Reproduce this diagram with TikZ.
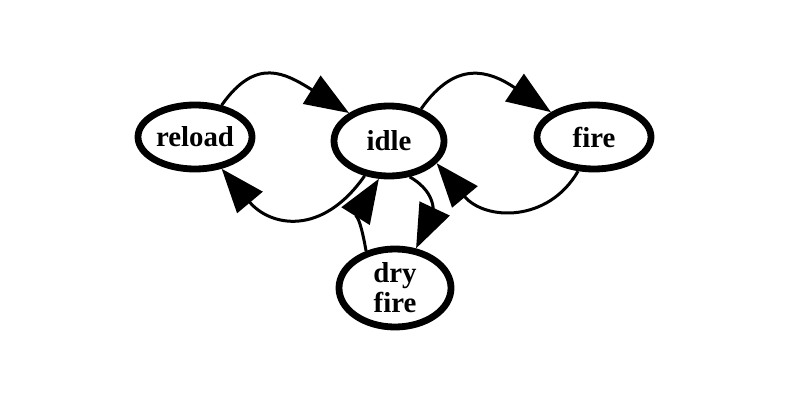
\documentclass[tikz,border=0pt]{standalone}
\usepackage{fontspec}
\setmainfont{Liberation Serif}
\usetikzlibrary{shapes.geometric,arrows.meta}
\begin{document}
\begin{tikzpicture}[x=0.025cm,y=0.025cm,
  state/.style={ellipse, draw, line width=0.17cm, inner sep=0pt,
    minimum width=2.85cm, minimum height=1.6cm,
    font=\bfseries\fontsize{20.5}{21.5}\selectfont, align=center},
  edge/.style={line width=0.075cm, -{Triangle[length=1.1cm,width=0.82cm]}}
]
\useasboundingbox (0,0) rectangle (800,-400);
\node[state] (reload) at (195,-137) {reload};
\node[state, minimum width=2.75cm, minimum height=1.75cm] (idle) at (389,-141) {idle};
\node[state] (fire) at (594,-137) {fire};
\node[state, minimum width=2.8cm, minimum height=1.95cm] (dry) at (395,-288) {dry\\fire};

\draw[edge] (reload.50) .. controls +(55:60) and +(148:75) .. (idle.145);
\draw[edge] (idle.235) .. controls +(235:75) and +(310:75) .. (reload.310);
\draw[edge] (idle.45) .. controls +(55:60) and +(146:75) .. (fire.150);
\draw[edge] (fire.245) .. controls +(240:60) and +(310:75) .. (idle.335);
\draw[edge] (dry.128) .. controls +(100:40) and +(238:45) .. (idle.255);
\draw[edge] (idle.300) .. controls +(330:35) and +(65:35) .. (dry.62);
\end{tikzpicture}
\end{document}
